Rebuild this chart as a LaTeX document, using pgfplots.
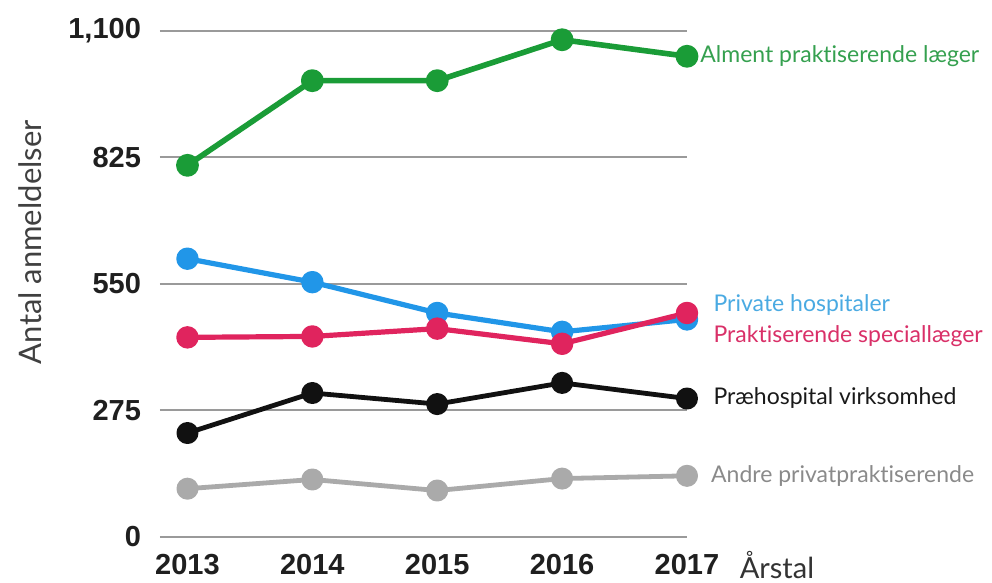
\documentclass[border=0pt]{standalone}
\usepackage{pgfplots}
\pgfplotsset{compat=1.18}
\usepackage{fontspec}
\setmainfont{Lato}[Ligatures=NoCommon]
\newfontfamily\tickfont{Liberation Sans}
\definecolor{cgreen}{HTML}{1A9C37}
\definecolor{cblue}{HTML}{2196E8}
\definecolor{cpink}{HTML}{E0245E}
\definecolor{cblack}{HTML}{111111}
\definecolor{cgray}{HTML}{AAAAAA}
\definecolor{tgreen}{HTML}{35A04F}
\definecolor{tblue}{HTML}{4AAAE2}
\definecolor{tpink}{HTML}{D93068}
\definecolor{tgray}{HTML}{8A8A8A}
\definecolor{gridc}{HTML}{9A9A9A}
\begin{document}
\begin{tikzpicture}
\path[use as bounding box] (-80pt,-23pt) rectangle (416pt,268.5pt);
\begin{axis}[
  at={(0,0)}, anchor=south west,
  scale only axis, width=263.5pt, height=253pt,
  xmin=2012.78, xmax=2017, ymin=0, ymax=1100,
  axis line style={draw=none},
  clip=false,
  ymajorgrids, grid style={gridc, line width=1pt},
  xtick={2013,2014,2015,2016,2017},
  xticklabels={2013,2014,2015,2016,2017},
  ytick={0,275,550,825,1100},
  yticklabels={0,275,550,825,{1,100}},
  tick style={draw=none},
  yticklabel style={font=\tickfont\bfseries\fontsize{14.5}{16}\selectfont, text=black!88, xshift=-6pt},
  xticklabel style={font=\tickfont\bfseries\fontsize{14.5}{16}\selectfont, text=black!88, yshift=-5pt},
  every axis plot/.append style={mark=*, line join=round},
]
\addplot[cgreen, line width=2.8pt, mark size=4.3pt] coordinates {(2013,808) (2014,992) (2015,992) (2016,1081) (2017,1045)};
\addplot[cblue, line width=2.6pt, mark size=4.3pt] coordinates {(2013,605) (2014,554) (2015,487) (2016,446) (2017,473)};
\addplot[cpink, line width=2.6pt, mark size=4.3pt] coordinates {(2013,434) (2014,436) (2015,453) (2016,420) (2017,487)};
\addplot[cblack, line width=2.4pt, mark size=4.3pt] coordinates {(2013,226) (2014,313) (2015,289) (2016,335) (2017,301)};
\addplot[cgray, line width=2.4pt, mark size=4.3pt] coordinates {(2013,105) (2014,125) (2015,101) (2016,127) (2017,133)};
\begin{scope}[every node/.style={anchor=west, font=\fontsize{11.5}{13}\selectfont, inner sep=0pt}]
\node[text=tgreen] at (axis cs:2017.104,1046) {Alment praktiserende læger};
\node[text=tblue] at (axis cs:2017.21,504) {Private hospitaler};
\node[text=tpink] at (axis cs:2017.21,437) {Praktiserende speciallæger};
\node[text=black!90] at (axis cs:2017.21,302) {Præhospital virksomhed};
\node[text=tgray] at (axis cs:2017.19,133) {Andre privatpraktiserende};
\node[text=black!80, font=\fontsize{14.5}{16}\selectfont] at (axis cs:2017.42,-61) {Årstal};
\node[text=black!75, font=\fontsize{15.5}{17}\selectfont, rotate=90, anchor=center] at (axis cs:2011.74,641) {Antal anmeldelser};
\end{scope}
\end{axis}
\end{tikzpicture}
\end{document}
